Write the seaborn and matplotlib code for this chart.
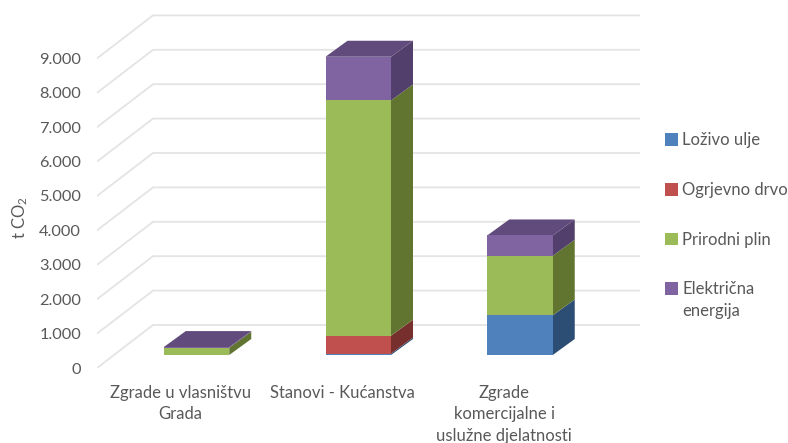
import matplotlib
matplotlib.use("Agg")
import matplotlib.pyplot as plt
import numpy as np
import seaborn as sns

categories = ["Zgrade u vlasništvu\nGrada", "Stanovi - Kućanstva", "Zgrade\nkomercijalne i\nuslužne djelatnosti"]
lozivo_ulje = [0, 40, 1150]
ogrjevno_drvo = [0, 520, 0]
prirodni_plin = [210, 6840, 1735]
elektricna = [20, 1270, 590]
series_names = ["Loživo ulje", "Ogrjevno drvo", "Prirodni plin", "Električna"]
y_ticks = [0, 1000, 2000, 3000, 4000, 5000, 6000, 7000, 8000, 9000]

front_colors = ["#4f81bd", "#c0504d", "#9bbb59", "#8064a2"]
side_colors = ["#2d4e74", "#772f2d", "#617531", "#523f6b"]
top_color = "#614b7c"
grid_color = "#e4e4e4"
text_color = "#595959"

sns.set_theme(style="white")
plt.rcParams["font.family"] = ["Lato", "DejaVu Sans"]
plt.rcParams["mathtext.default"] = "regular"

W, H = 788, 443
fig = plt.figure(figsize=(W / 100, H / 100), dpi=100)
left, right, top, bottom = 97, 640, 5, 368
ax = fig.add_axes([left / W, 1 - bottom / H, (right - left) / W, (bottom - top) / H])

# pixel scale of the front plane of the bars
px_x = 161.75        # px per category
px_y = 34.4 / 1000   # px per t CO2
x0, y0 = 196.5, 355


def to_x(p):
    return (p - x0) / px_x


def to_y(p):
    return (y0 - p) / px_y


bar_dx, bar_dy = 22 / px_x, 16 / px_y
wall_dx = 56 / px_x
floor_front = to_y(368)
wall_dy = 43 / px_y

# grid runs along the side wall, then along the back wall
for v in y_ticks:
    yf = v + floor_front
    ax.plot([to_x(97), to_x(97) + wall_dx, to_x(640)], [yf, yf + wall_dy, yf + wall_dy],
            color=grid_color, lw=1.3, zorder=1, solid_joinstyle="miter")

series = [lozivo_ulje, ogrjevno_drvo, prirodni_plin, elektricna]
bottoms = np.zeros(len(categories))
for vals, name, col in zip(series, series_names, front_colors):
    sns.barplot(x=categories, y=vals, bottom=bottoms, color=col, saturation=1, width=65.5 / px_x,
                label=name, ax=ax, zorder=3, linewidth=0)
    bottoms = bottoms + np.array(vals)

# depth faces taken from the bars seaborn drew
for cont, side in zip(ax.containers, side_colors):
    for bar in cont:
        xr = bar.get_x() + bar.get_width()
        y1, y2 = bar.get_y(), bar.get_y() + bar.get_height()
        if y2 > y1:
            ax.fill([xr, xr + bar_dx, xr + bar_dx, xr], [y1, y1 + bar_dy, y2 + bar_dy, y2],
                    color=side, lw=0, zorder=2.5)
for bar, total in zip(ax.containers[-1], bottoms):
    xl = bar.get_x()
    xr = xl + bar.get_width()
    ax.fill([xl, xr, xr + bar_dx, xl + bar_dx], [total, total, total + bar_dy, total + bar_dy],
            color=top_color, lw=0, zorder=2.5)

ax.set_xlim(to_x(left), to_x(right))
ax.set_ylim(to_y(bottom), to_y(top))
sns.despine(ax=ax, left=True, bottom=True)
ax.set_xlabel("")
ax.set_ylabel("")

ax.set_yticks([v + floor_front for v in y_ticks], [f"{v:,}".replace(",", ".") for v in y_ticks])
ax.set_xticks([i - 16 / px_x for i in range(len(categories))], categories, linespacing=1.42)
ax.tick_params(axis="y", length=0, pad=11.5, labelsize=11.8, labelcolor=text_color)
ax.tick_params(axis="x", length=0, pad=12, labelsize=12, labelcolor=text_color)

fig.text(20 / W, 1 - 218 / H, "t CO$_2$", rotation=90, ha="center", va="center",
         fontsize=12, color=text_color)

leg = ax.legend(loc="upper left", bbox_to_anchor=(665 / W, 1 - 132.5 / H), bbox_transform=fig.transFigure,
                frameon=False, fontsize=12, labelcolor=text_color, handlelength=0.8, handleheight=0.8,
                handletextpad=0.24, labelspacing=2.02, borderpad=0, borderaxespad=0)
# second line of the last legend entry
fig.text(682 / W, 1 - 311 / H, "energija", ha="left", va="center", fontsize=12, color=text_color)

fig.savefig("out.png", dpi=100)
